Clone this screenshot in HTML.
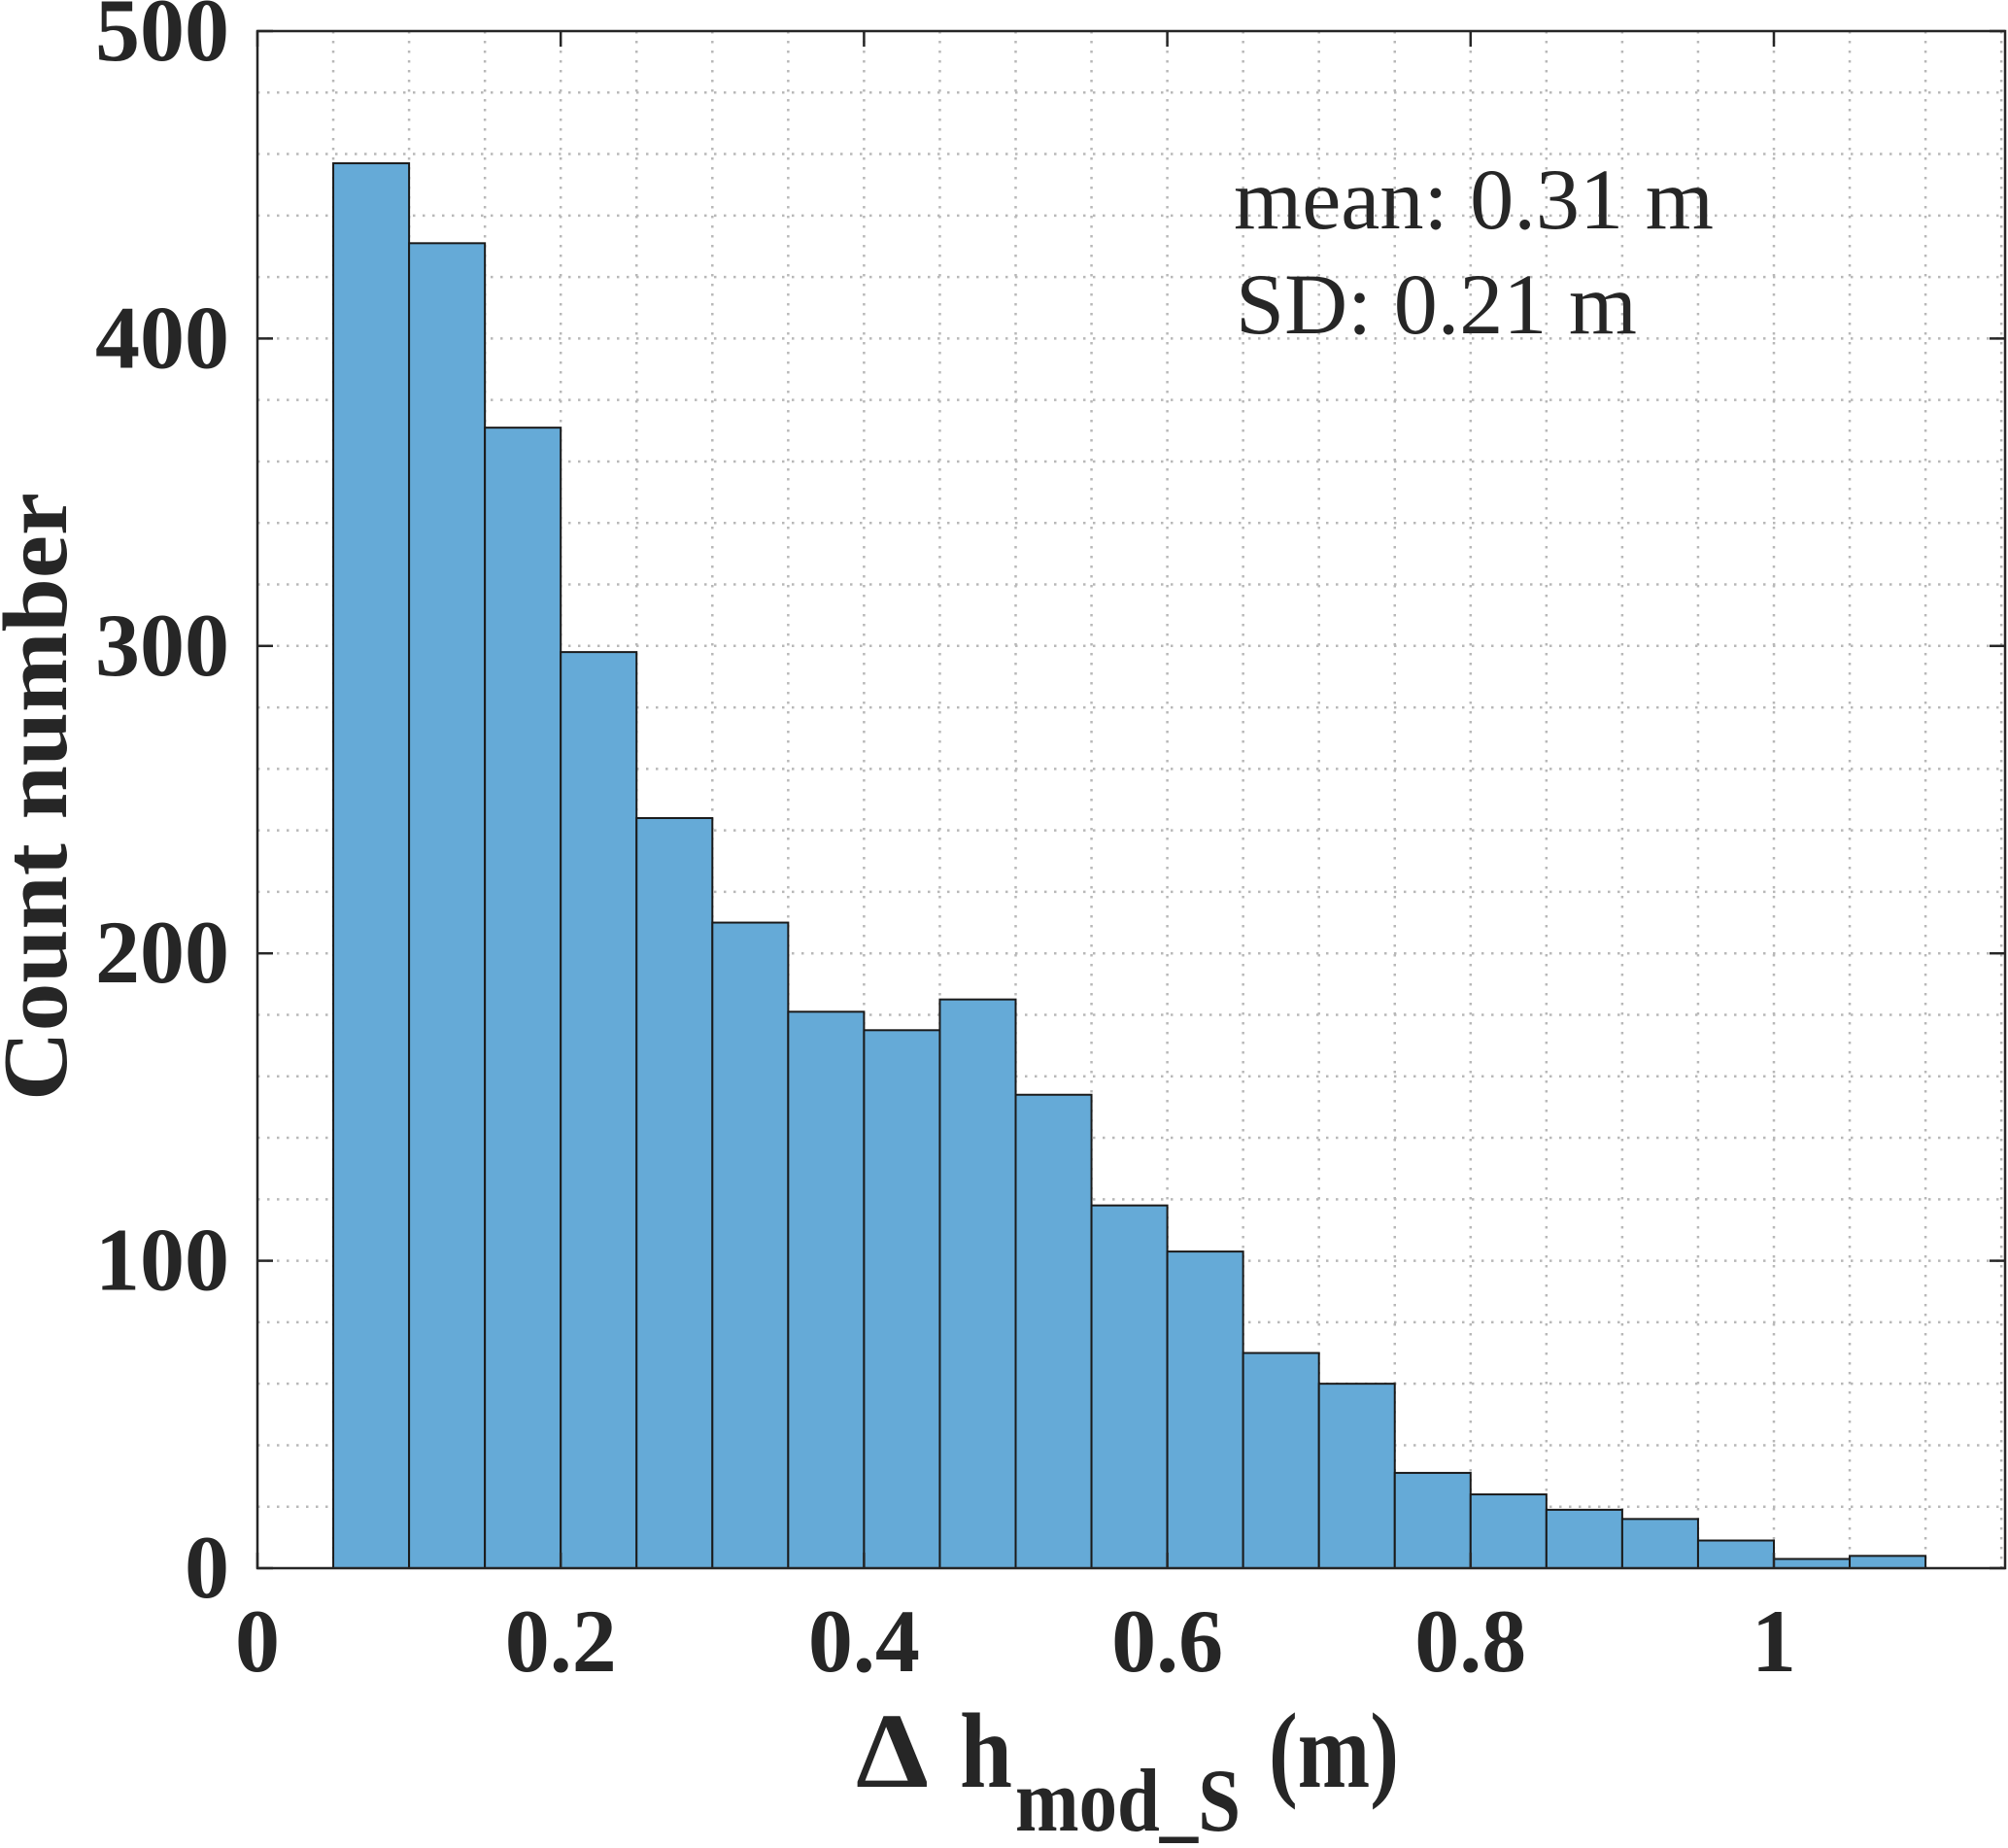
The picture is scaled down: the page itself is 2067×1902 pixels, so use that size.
<!DOCTYPE html>
<html><head><meta charset="utf-8"><style>html,body{margin:0;padding:0;background:#fff}svg{display:block}
svg text{font-family:"Liberation Serif","Times New Roman",Times,serif;}</style></head>
<body>
<svg id="chart" width="2067" height="1902" viewBox="0 0 2067 1902" xmlns="http://www.w3.org/2000/svg" fill="#262626">
<g id="grid"></g>
<g id="bars"></g>
<g id="axes"></g>
<text x="1270" y="235" font-size="89" textLength="494" lengthAdjust="spacingAndGlyphs">mean: 0.31 m</text>
<text x="1272" y="343" font-size="89" textLength="413" lengthAdjust="spacingAndGlyphs">SD: 0.21 m</text>
<text transform="translate(68,820) rotate(-90)" text-anchor="middle" font-size="94" font-weight="bold" textLength="626" lengthAdjust="spacingAndGlyphs">Count number</text>
<g font-weight="bold">
<text x="881" y="1839" font-size="110" textLength="75" lengthAdjust="spacingAndGlyphs">Δ</text>
<text x="988" y="1839" font-size="110" textLength="54" lengthAdjust="spacingAndGlyphs">h</text>
<text x="1045" y="1884" font-size="92" textLength="232" lengthAdjust="spacingAndGlyphs">mod_S</text>
<text x="1306" y="1839" font-size="110" textLength="134" lengthAdjust="spacingAndGlyphs">(m)</text>
</g>
</svg>
<script>
const binEdgesStart = [0.05,0.10,0.15,0.20,0.25,0.30,0.35,0.40,0.45,0.50,0.55,0.60,0.65,0.70,0.75,0.80,0.85,0.90,0.95,1.00,1.05];
const binWidth = 0.05;
const counts = [457,431,371,298,244,210,181,175,185,154,118,103,70,60,31,24,19,16,9,3,4];
const xTicks = [0,0.2,0.4,0.6,0.8,1];
const xTickLabels = ["0","0.2","0.4","0.6","0.8","1"];
const yTicks = [0,100,200,300,400,500];
const yTickLabels = ["0","100","200","300","400","500"];

const L=265,R=2064,T=32,B=1614;
const XPX=1561;
const sx=v=>L+v*XPX;
const sy=v=>B-(v/500)*(B-T);
const NS='http://www.w3.org/2000/svg';
function mk(tag,attrs,parent){const e=document.createElementNS(NS,tag);for(const k in attrs)e.setAttribute(k,attrs[k]);parent.appendChild(e);return e;}
const grid=document.getElementById('grid'),bars=document.getElementById('bars'),axes=document.getElementById('axes');
for(let i=1;i*0.05<(R-L)/XPX-0.001;i++){const x=sx(i*0.05);
 const g=mk('line',{x1:x,x2:x,y1:T,y2:B,stroke:'#b8b8b8','stroke-width':2.5,'stroke-dasharray':'2.5 7.5'},grid);
 
 }
for(let v=20;v<500;v+=20){const y=sy(v);
 const g=mk('line',{x1:L,x2:R,y1:y,y2:y,stroke:'#b8b8b8','stroke-width':2.5,'stroke-dasharray':'2.5 7.5'},grid);
 
 }
counts.forEach((c,i)=>{const x=sx(binEdgesStart[i]),w=sx(binEdgesStart[i]+binWidth)-x,y=sy(c);
 const r=mk('rect',{x:x,y:y,width:w,height:B-y,fill:'#65aad7',stroke:'#1a1a1a','stroke-width':2},bars);
 
 });
const f=mk('rect',{x:L,y:T,width:R-L,height:B-T,fill:'none',stroke:'#262626','stroke-width':2.5},axes);


xTicks.forEach((v,i)=>{const x=sx(v);
 mk('line',{x1:x,x2:x,y1:B,y2:B-16,stroke:'#262626','stroke-width':2.5},axes);
 mk('line',{x1:x,x2:x,y1:T,y2:T+16,stroke:'#262626','stroke-width':2.5},axes);
 const t=mk('text',{x:x,y:1720,'text-anchor':'middle','font-size':92,'font-weight':'bold'},axes);
 t.textContent=xTickLabels[i];
 
 });
yTicks.forEach((v,i)=>{const y=sy(v);
 mk('line',{x1:L,x2:L+16,y1:y,y2:y,stroke:'#262626','stroke-width':2.5},axes);
 mk('line',{x1:R,x2:R-16,y1:y,y2:y,stroke:'#262626','stroke-width':2.5},axes);
 const t=mk('text',{x:236,y:y+30,'text-anchor':'end','font-size':92,'font-weight':'bold'},axes);
 t.textContent=yTickLabels[i];
 
 });
</script>
</body></html>
